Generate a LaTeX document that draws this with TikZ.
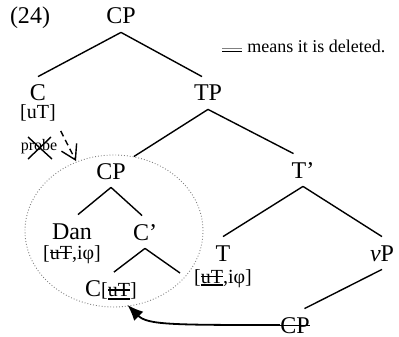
\documentclass[tikz,border=0pt]{standalone}
\usepackage{fontspec}
\setmainfont{Liberation Serif}
\usetikzlibrary{arrows.meta,shapes.geometric}

% struck-through feature, and struck-through plus underlined feature
\newcommand\delf[1]{{\setbox0=\hbox{#1}\rlap{\rule[0.3em]{\wd0}{0.55pt}}\box0}}
\newcommand\delful[1]{{\setbox0=\hbox{#1}\rlap{\rule[0.3em]{\wd0}{0.55pt}}\rlap{\rule[-0.16em]{\wd0}{0.9pt}}\box0}}

\begin{document}
\begin{tikzpicture}[x=0.5pt,y=-0.5pt,
  cat/.style={font=\fontsize{12}{14}\selectfont, text height=8pt, text depth=0pt, inner sep=4pt},
  feat/.style={font=\fontsize{10}{12}\selectfont, inner sep=0pt, anchor=base},
  branch/.style={line width=0.7pt},
  probearrow/.style={line width=0.7pt, dash pattern=on 3pt off 2pt,
    -{Straight Barb[length=7pt,width=8.5pt,line width=0.7pt]}},
  movearrow/.style={line width=0.9pt, -{Latex[length=8pt,width=6.5pt]}},
  phase/.style={ellipse, draw=gray, densely dotted, line width=0.45pt, inner sep=0pt,
    minimum width=89pt, minimum height=76pt}]
\useasboundingbox (0,0) rectangle (399,336);

% example number and legend
\node[cat] (ex) at (30,16) {(24)};
\node[font=\fontsize{9}{11}\selectfont, inner sep=0pt, anchor=base west] (legend) at (247,53) {means it is deleted.};
\draw[gray, line width=0.4pt] (222,48) -- (242,48);
\draw[line width=0.6pt] (222,51.5) -- (242,51.5);

% phase boundary around the embedded CP
\node[phase] (cloud) at (114,231) {};

% tree nodes
\node[cat] (cp0) at (121,16) {CP};
\node[cat] (c) at (38,93) {C};
\node[feat] (cf) at (38,119) {[uT]};
\node[cat] (tp) at (208,93) {TP};
\node[cat] (cp1) at (111,171) {CP};
\node[cat] (tbar) at (303,170) {T’};
\node[cat] (dan) at (72,231) {Dan};
\node[feat] (danf) at (72,259) {[\delf{uT},iφ]};
\node[cat] (cbar) at (145,232) {C’};
\node[cat] (t) at (223,253) {T};
\node[feat] (tf) at (223,283) {[\delful{uT},iφ]};
\node[cat] (vp) at (382,253) {\textit{v}P};
\node[cat] (cu) at (111,288.5) {C{\fontsize{10}{12}\selectfont[\delful{uT}]}};
\node[cat] (cpd) at (295,325) {\delf{CP}};
\coordinate (cright) at (180,273);

% branches
\draw[branch] (cp0.south) -- (c.north);
\draw[branch] (cp0.south) -- (tp.110);
\draw[branch] (tp.south) -- (cloud.75);
\draw[branch] (tp.south) -- (tbar.120);
\draw[branch] (tbar.south) -- (t.north);
\draw[branch] (tbar.south) -- (vp.north);
\draw[branch] (vp.south) -- (cpd.60);
\draw[branch] (cp1.south) -- (dan.70);
\draw[branch] (cp1.south) -- (cbar.100);
\draw[branch] (cbar.south) -- (cu.80);
\draw[branch] (cbar.south) -- (cright);

% probe from C, crossed out
\node[font=\fontsize{8}{10}\selectfont, inner sep=0pt, anchor=base] (probe) at (39,150) {probe};
\draw[line width=0.7pt] (28,137) -- (52,159);
\draw[line width=0.7pt] (28,159) -- (51,137);
\coordinate (probetip) at (76,161);
\draw[probearrow, shorten <=5pt] (cf.south east) -- (probetip);

% movement of the embedded CP
\draw[movearrow, shorten <=-4pt] (cpd.west) .. controls +(-100,0) and +(20,20) .. (cu.-45);
\end{tikzpicture}
\end{document}
